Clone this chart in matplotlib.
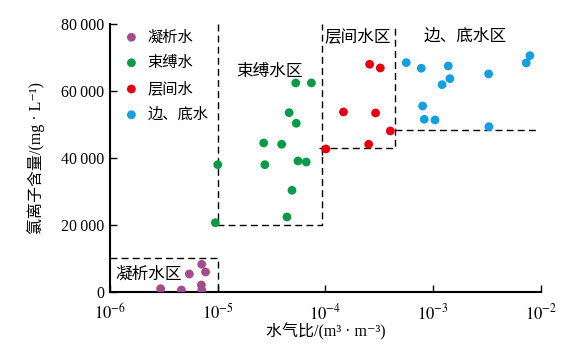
import math
import matplotlib
matplotlib.use("Agg")
import matplotlib.pyplot as plt
from matplotlib.ticker import FixedLocator, FuncFormatter, NullLocator

plt.rcParams['font.family'] = ['Liberation Serif', 'Noto Sans CJK SC', 'DejaVu Sans']
plt.rcParams['mathtext.fontset'] = 'stix'

# 凝析水
cond_x = [2.95e-6, 4.6e-6, 5.45e-6, 7.05e-6, 7.1e-6, 7.1e-6, 7.7e-6]
cond_y = [985, 600, 5370, 2090, 600, 8270, 5970]
# 束缚水
bound_x = [5.3e-5, 7.4e-5, 4.6e-5, 5.36e-5, 2.67e-5, 3.92e-5, 1.0e-5,
           2.74e-5, 5.56e-5, 6.63e-5, 4.89e-5, 4.39e-5, 9.5e-6]
bound_y = [62390, 62400, 53520, 50360, 44480, 44090, 38000,
           38000, 39100, 38800, 30360, 22390, 20690]
# 层间水
inter_x = [2.57e-4, 3.23e-4, 1.47e-4, 2.92e-4, 4.0e-4, 1.01e-4, 2.52e-4]
inter_y = [67970, 66870, 53730, 53430, 48060, 42690, 44090]
# 边、底水
edge_x = [5.62e-4, 7.75e-4, 1.38e-3, 1.43e-3, 1.21e-3, 3.27e-3, 7.31e-3,
          7.9e-3, 7.98e-4, 8.26e-4, 1.04e-3, 3.29e-3]
edge_y = [68450, 66780, 67460, 63670, 61880, 65080, 68360,
          70540, 55520, 51550, 51340, 49340]

series = [
    ('凝析水', cond_x, cond_y, '#a64b8e'),
    ('束缚水', bound_x, bound_y, '#0a9a48'),
    ('层间水', inter_x, inter_y, '#e60012'),
    ('边、底水', edge_x, edge_y, '#139fe0'),
]

fig = plt.figure(figsize=(5.73, 3.47), dpi=100)
ax = fig.add_axes([0.192, 0.1585, 0.752, 0.7725])

for name, xs, ys, c in series:
    ax.scatter(xs, ys, s=40, color=c, edgecolors='none', label=name, zorder=3)

dash = dict(color='black', linestyle=(0, (5, 3)), linewidth=1.0, zorder=2)
# 凝析水区
ax.plot([1e-6, 1e-5, 1e-5], [10000, 10000, 0], **dash)
# 束缚水区
ax.plot([1e-5, 1e-5, 9.3e-5, 9.3e-5], [80000, 20000, 20000, 80000], **dash)
# 层间水区
ax.plot([8.8e-5, 4.4e-4, 4.4e-4], [42900, 42900, 80000], **dash)
ax.plot([9.3e-5, 9.3e-5], [42900, 40000], **dash)
# 边、底水区
ax.plot([4.4e-4, 9.1e-3], [48200, 48200], **dash)

ax.text(2.27e-6, 5300, '凝析水区', fontsize=12, ha='center', va='center')
ax.text(3.05e-5, 65700, '束缚水区', fontsize=12, ha='center', va='center')
ax.text(2.0e-4, 76200, '层间水区', fontsize=12, ha='center', va='center')
ax.text(1.97e-3, 76200, '边、底水区', fontsize=12, ha='center', va='center')

ax.set_xscale('log')
ax.set_xlim(1e-6, 1e-2)
ax.set_ylim(0, 80000)
ax.xaxis.set_major_locator(FixedLocator([1e-6, 1e-5, 1e-4, 1e-3, 1e-2]))
ax.xaxis.set_minor_locator(NullLocator())
ax.xaxis.set_major_formatter(FuncFormatter(
    lambda v, p: r'$10^{%d}$' % round(math.log10(v))))
ax.yaxis.set_major_locator(FixedLocator([0, 20000, 40000, 60000, 80000]))
ax.yaxis.set_major_formatter(FuncFormatter(
    lambda v, p: '{:,}'.format(int(v)).replace(',', '\u2009')))

for s in ['top', 'right']:
    ax.spines[s].set_visible(False)
for s in ['left', 'bottom']:
    ax.spines[s].set_linewidth(1.5)
ax.tick_params(direction='in', length=5, width=1.0, labelsize=12, pad=4)
ax.tick_params(axis='x', pad=8)
ax.tick_params(axis='y', labelsize=11.5)

ax.set_xlabel('水气比/(m³ · m⁻³)', fontsize=11.5, labelpad=0)
ax.set_ylabel('氯离子含量/(mg · L⁻¹)', fontsize=11.5, labelpad=12)

ax.legend(loc='upper left', frameon=False, fontsize=11, handletextpad=0.05,
          borderaxespad=0.0, labelspacing=0.75, markerscale=1.0,
          bbox_to_anchor=(0.0, 1.0))

fig.savefig('out.png', dpi=100)
